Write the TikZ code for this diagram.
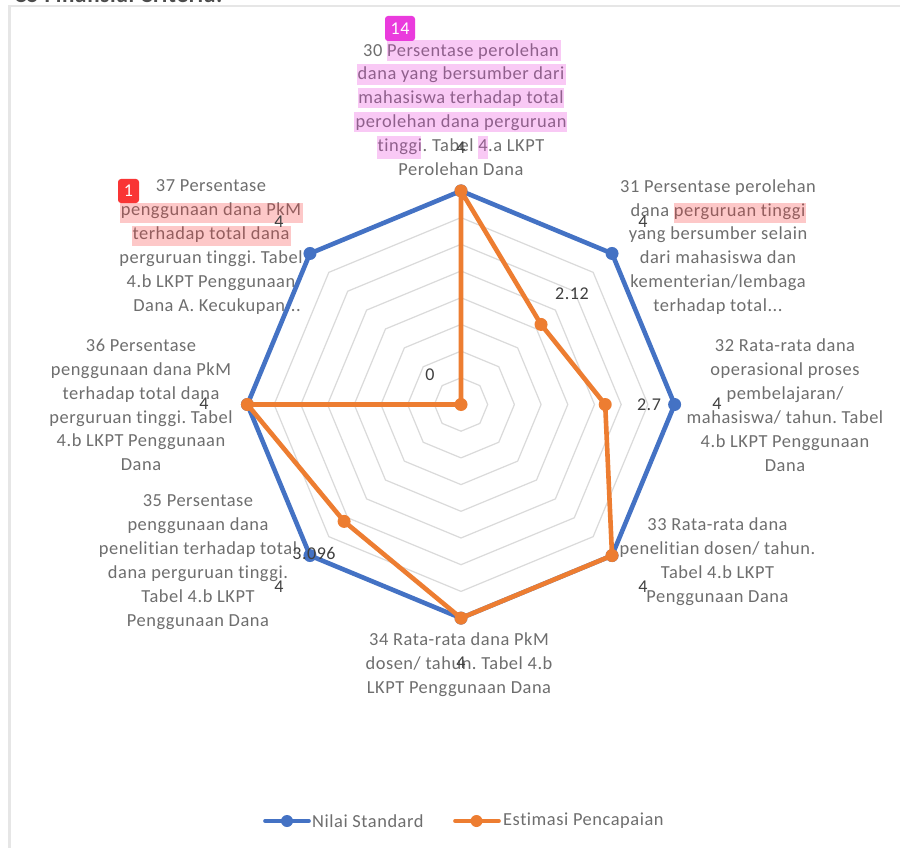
\documentclass[tikz,border=0pt]{standalone}
\usepackage{fontspec}
\setmainfont[LetterSpace=3,RawFeature=-liga;-clig]{Carlito}
\usetikzlibrary{positioning}
\definecolor{stdblue}{HTML}{4472C4}
\definecolor{estorange}{HTML}{ED7D31}
\definecolor{labelgray}{HTML}{6E6E6E}
\definecolor{valgray}{HTML}{404040}
\definecolor{gridgray}{HTML}{DADADA}
\definecolor{framegray}{HTML}{E6E6E6}
\definecolor{pinkhl}{HTML}{EA3BDD}
\definecolor{redhl}{HTML}{F93535}
\tikzset{
  catlabel/.style={text=labelgray,align=center,inner sep=0pt,font=\frenchspacing\fontsize{18.4}{23.9}\selectfont},
  vallabel/.style={text=valgray,inner sep=0pt,font=\fontsize{18}{20}\selectfont},
  legendtext/.style={text=labelgray,inner sep=0pt,anchor=west,font=\fontsize{18.4}{20}\selectfont},
  ringline/.style={draw=gridgray,line width=1.2pt,line join=round},
  stdline/.style={draw=stdblue,line width=4.6pt,line join=round,line cap=round},
  estline/.style={draw=estorange,line width=4.6pt,line join=round,line cap=round},
  stdmark/.style={circle,fill=stdblue,inner sep=0pt,minimum size=13pt},
  estmark/.style={circle,fill=estorange,inner sep=0pt,minimum size=13pt},
  pinkband/.style={fill=pinkhl,fill opacity=.27,draw=none},
  redband/.style={fill=redhl,fill opacity=.27,draw=none},
  badge/.style={rounded corners=3pt,text=white,inner sep=0pt,font=\fontsize{18}{20}\selectfont},
}
\begin{document}
\begin{tikzpicture}[x=1pt,y=-1pt]
\useasboundingbox (0,0) rectangle (900,848);
\fill[white] (0,0) rectangle (900,848);
% clipped heading at the very top
\begin{scope}
\clip (0,0) rectangle (300,3);
\node[anchor=base west,inner sep=0pt,text=black!70,font=\bfseries\fontsize{23}{26}\selectfont] (heading) at (14,2.5) {C5 Finansial Criteria:};
\end{scope}
% frame
\draw[framegray,line width=2.4pt] (9.5,848) -- (9.5,6) -- (900,6);
% coordinates
\begin{scope}[shift={(461,404.5)}]
\coordinate (centre) at (0,0);
\foreach \r in {1,...,8}{
  \draw[ringline] (-90:\r*26.7) -- (-45:\r*26.7) -- (0:\r*26.7) -- (45:\r*26.7) -- (90:\r*26.7) -- (135:\r*26.7) -- (180:\r*26.7) -- (225:\r*26.7) -- cycle;
}
\coordinate (s0) at (-90:213.6);
\coordinate (s1) at (-45:213.6);
\coordinate (s2) at (0:213.6);
\coordinate (s3) at (45:213.6);
\coordinate (s4) at (90:213.6);
\coordinate (s5) at (135:213.6);
\coordinate (s6) at (180:213.6);
\coordinate (s7) at (225:213.6);
\coordinate (e0) at (-90:213.6);
\coordinate (e1) at (-45:113.2);
\coordinate (e2) at (0:144.2);
\coordinate (e3) at (45:213.6);
\coordinate (e4) at (90:213.6);
\coordinate (e5) at (135:165.3);
\coordinate (e6) at (180:213.6);
\coordinate (e7) at (225:0);
\end{scope}
% category labels
\node[catlabel] (l30) at (461,109.5) {30 Persentase perolehan\\dana yang bersumber dari\\mahasiswa terhadap total\\perolehan dana perguruan\\tinggi. Tabel 4.a LKPT\\Perolehan Dana};
\node[catlabel] (l31) at (718,247) {31 Persentase perolehan\\dana perguruan tinggi\\yang bersumber selain\\dari mahasiswa dan\\kementerian/lembaga\\terhadap total...};
\node[catlabel] (l32) at (785,405) {32 Rata-rata dana\\operasional proses\\pembelajaran/\\mahasiswa/ tahun. Tabel\\4.b LKPT Penggunaan\\Dana};
\node[catlabel] (l33) at (717.5,562) {33 Rata-rata dana\\penelitian dosen/ tahun.\\Tabel 4.b LKPT\\Penggunaan Dana};
\node[catlabel] (l34) at (459,665) {34 Rata-rata dana PkM\\dosen/ tahun. Tabel 4.b\\LKPT Penggunaan Dana};
\node[catlabel] (l35) at (198,562) {35 Persentase\\penggunaan dana\\penelitian terhadap total\\dana perguruan tinggi.\\Tabel 4.b LKPT\\Penggunaan Dana};
\node[catlabel] (l36) at (141,405) {36 Persentase\\penggunaan dana PkM\\terhadap total dana\\perguruan tinggi. Tabel\\4.b LKPT Penggunaan\\Dana};
\node[catlabel] (l37) at (211,247) {37 Persentase\\penggunaan dana PkM\\terhadap total dana\\perguruan tinggi. Tabel\\4.b LKPT Penggunaan\\\hspace*{12pt}Dana A. Kecukupan...};
% highlights
\fill[pinkband] (387,40) rectangle (561,61);
\fill[pinkband] (357,64) rectangle (566,85);
\fill[pinkband] (358,88) rectangle (564,108);
\fill[pinkband] (354,112) rectangle (567,132);
\fill[pinkband] (377,136) rectangle (421,159);
\fill[pinkband] (478,136) rectangle (488,159);
\fill[redband] (120,203) rectangle (303,223);
\fill[redband] (132,226) rectangle (291,246);
\fill[redband] (674,203) rectangle (806,223);
% series
\draw[stdline] (s0) -- (s1) -- (s2) -- (s3) -- (s4) -- (s5) -- (s6) -- (s7) -- cycle;
\foreach \i in {0,...,7}{\node[stdmark] (ms\i) at (s\i) {};}
\draw[estline] (e0) -- (e1) -- (e2) -- (e3) -- (e4) -- (e5) -- (e6) -- (e7) -- cycle;
\foreach \i in {0,...,7}{\node[estmark] (me\i) at (e\i) {};}
% value labels
\node[vallabel] (v0) at (461,148) {4};
\node[vallabel] (v1a) at (643,222) {4};
\node[vallabel] (v1b) at (572,294) {2.12};
\node[vallabel] (v2a) at (717,404) {4};
\node[vallabel] (v2b) at (649,405) {2.7};
\node[vallabel] (v3) at (643,587) {4};
\node[vallabel] (v4) at (461,663) {4};
\node[vallabel] (v5a) at (279,587) {4};
\node[vallabel] (v5b) at (314,553) {3.096};
\node[vallabel] (v6) at (204,404) {4};
\node[vallabel] (v7a) at (279,222) {4};
\node[vallabel] (v7b) at (430,375) {0};
% badges
\node[badge,fill=pinkhl,minimum width=30pt,minimum height=25pt] (b14) at (400,28.5) {14};
\node[badge,fill=redhl,minimum width=21pt,minimum height=24pt] (b1) at (128.5,191) {1};
% legend
\coordinate (la) at (265,821); \coordinate (lb) at (309,821);
\coordinate (lc) at (455,821); \coordinate (ld) at (499,821);
\draw[stdline,line width=3.6pt] (la) -- (lb);
\node[stdmark,minimum size=12pt] (lm1) at (287,821) {};
\node[legendtext] (lt1) at (312,821) {Nilai Standard};
\draw[estline,line width=3.6pt] (lc) -- (ld);
\node[estmark,minimum size=12pt] (lm2) at (476.5,821) {};
\node[legendtext] (lt2) at (503,821) {Estimasi Pencapaian};
\end{tikzpicture}
\end{document}
